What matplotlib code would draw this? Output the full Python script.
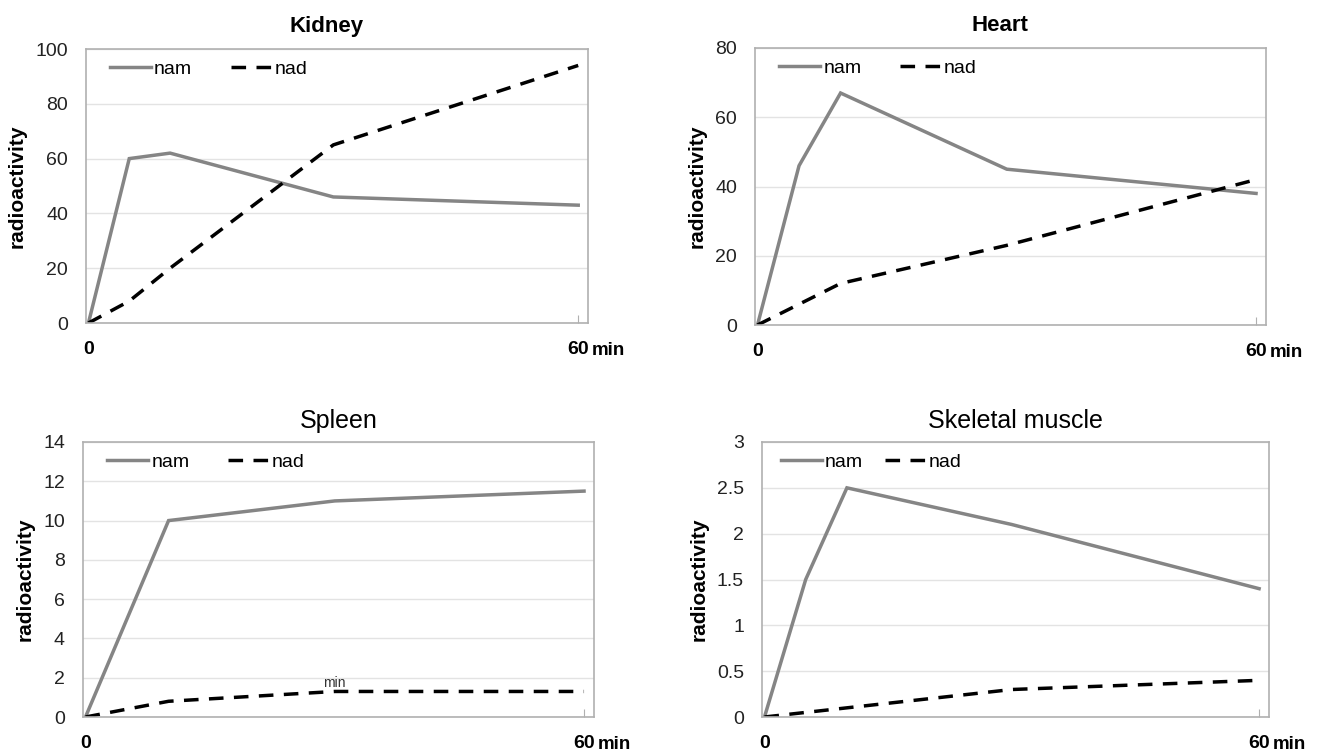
import matplotlib
matplotlib.use('Agg')
import matplotlib.pyplot as plt

plt.rcParams['font.family'] = ['Liberation Sans', 'DejaVu Sans']

NAM_COLOR = '#858585'
NAD_COLOR = '#000000'
GRID_COLOR = '#e3e3e3'
SPINE_COLOR = '#b0b0b0'

# data (minutes, radioactivity)
kidney_x = [0, 5, 10, 30, 60]
kidney_nam = [0, 60, 62, 46, 43]
kidney_nad = [0, 8, 20, 65, 94]

heart_x = [0, 5, 10, 30, 60]
heart_nam = [0, 46, 67, 45, 38]
heart_nad = [0, 6, 12, 23, 42]

spleen_x = [0, 10, 30, 60]
spleen_nam = [0, 10, 11, 11.5]
spleen_nad = [0, 0.8, 1.3, 1.3]

muscle_x = [0, 2, 5, 10, 30, 60]
muscle_nam = [0, 0.6, 1.5, 2.5, 2.1, 1.4]
muscle_nad = [0, 0.02, 0.05, 0.1, 0.3, 0.4]

panels = [
    # title, x, nam, nad, yticks, ylabels, rect px (l, t, r, b), bold title, colspacing, legend x
    ('Kidney', kidney_x, kidney_nam, kidney_nad,
     [0, 20, 40, 60, 80, 100], None, (86, 49, 588, 323), True, 2.0, 0.025),
    ('Heart', heart_x, heart_nam, heart_nad,
     [0, 20, 40, 60, 80], None, (755, 48, 1266, 325), True, 2.0, 0.025),
    ('Spleen', spleen_x, spleen_nam, spleen_nad,
     [0, 2, 4, 6, 8, 10, 12, 14], None, (83, 442, 594, 717), False, 2.0, 0.025),
    ('Skeletal muscle', muscle_x, muscle_nam, muscle_nad,
     [0, 0.5, 1, 1.5, 2, 2.5, 3], ['0', '0.5', '1', '1.5', '2', '2.5', '3'],
     (762, 442, 1269, 717), False, 1.1, 0.015),
]

W, H = 1318, 753
fig = plt.figure(figsize=(W / 100, H / 100), dpi=100)

XPAD = 13

for title, xs, nam, nad, yticks, ylabels, rect, bold_title, colsp, legx in panels:
    l, t, r, b = rect
    ax = fig.add_axes([l / W, 1 - b / H, (r - l) / W, (b - t) / H])
    ax.plot(xs, nam, color=NAM_COLOR, lw=2.5, label='nam', solid_joinstyle='miter')
    ax.plot(xs, nad, color=NAD_COLOR, lw=2.5, dashes=(4.2, 3.0), label='nad')

    ax.set_xlim(-0.3, 61.2)
    ax.set_ylim(yticks[0], yticks[-1])
    ax.set_yticks(yticks)
    if ylabels:
        ax.set_yticklabels(ylabels)
    ax.set_xticks([0, 60])
    ax.set_xticklabels(['0', '60'], fontweight='bold')
    ax.tick_params(axis='x', direction='in', length=6, color=SPINE_COLOR, pad=XPAD,
                   labelsize=14)
    ax.tick_params(axis='y', length=0, pad=13, labelsize=14, labelcolor='#222222')
    ax.xaxis.get_major_ticks()[0].tick1line.set_visible(False)

    ax.annotate('min', xy=(60, 0), xycoords=('data', 'axes fraction'),
                xytext=(10, -XPAD - 0.5), textcoords='offset points',
                ha='left', va='top', fontsize=13.5, fontweight='bold')

    ax.grid(axis='y', color=GRID_COLOR, lw=1)
    ax.set_axisbelow(True)
    for s in ax.spines.values():
        s.set_color(SPINE_COLOR)
        s.set_linewidth(1.2)

    ax.set_ylabel('radioactivity', fontsize=15, fontweight='bold', labelpad=6)
    if bold_title:
        ax.set_title(title, fontsize=16, fontweight='bold', pad=12, x=0.48)
    else:
        ax.set_title(title, fontsize=18, fontweight='normal', pad=10)

    ax.legend(loc='upper left', ncol=2, frameon=False, fontsize=14,
              handlelength=2.1, handletextpad=0.15, columnspacing=colsp,
              borderaxespad=0.2, bbox_to_anchor=(legx, 1.0))

    if title == 'Spleen':
        ax.text(30, 1.35, 'min', fontsize=10, color='#333333', ha='center', va='bottom')

fig.savefig('out.png', dpi=100)
